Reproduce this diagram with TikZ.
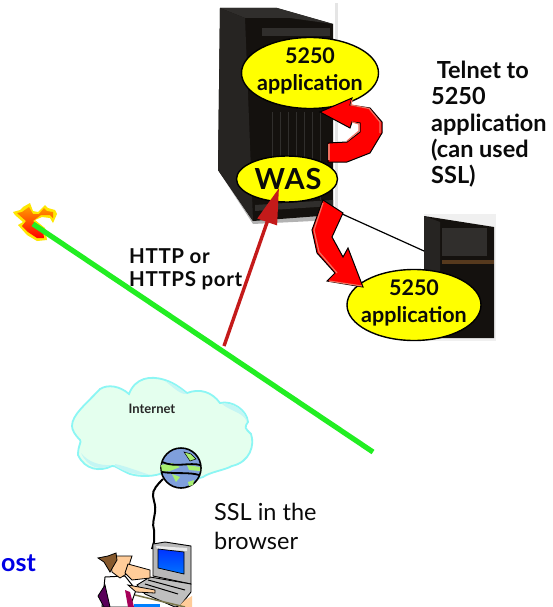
\documentclass[tikz,border=0pt]{standalone}
\usepackage{fontspec}
\setmainfont{Lato}
\usetikzlibrary{arrows.meta,shapes.geometric}
\newfontfamily\spaced[LetterSpace=3]{Lato}
\newfontfamily\portfont[LetterSpace=3]{Lato}
\definecolor{redarrow}{HTML}{C41A1A}
\definecolor{limeline}{HTML}{22EE22}
\definecolor{ellyellow}{HTML}{FFFF00}
\definecolor{cloudfill}{HTML}{E4FFEE}
\definecolor{cloudedge}{HTML}{8CF6F4}
\definecolor{cloudshade}{HTML}{C4F6F4}
\definecolor{globeblue}{HTML}{7F9FDC}
\definecolor{globegreen}{HTML}{A8F070}
\definecolor{srvdark}{HTML}{14110E}
\definecolor{srvmid}{HTML}{262422}
\definecolor{srvside}{HTML}{302E2C}
\definecolor{redrimc}{HTML}{F07060}
\definecolor{skin}{HTML}{FFCC99}
\definecolor{inktext}{HTML}{0A0A0A}
\tikzset{
  x=1pt,y=-1pt,
  appell/.style={ellipse,draw=black,line width=1.4pt,fill=ellyellow,inner sep=0pt,minimum width=#1},
  applabel/.style={font=\fontsize{21.5}{27}\selectfont\bfseries,align=center,text=inktext,inner sep=0pt},
  sidelabel/.style={font=\fontsize{23.5}{26.3}\selectfont\bfseries,align=left,anchor=north west,inner sep=0pt,text=inktext},
  portlabel/.style={font=\portfont\fontsize{20.5}{23}\selectfont\bfseries,align=left,anchor=north west,inner sep=0pt,text=inktext},
  redshape/.style={fill=red,draw=black,line width=1pt,line join=miter},
  redrim/.style={draw=redrimc,line width=1.2pt},
}
\begin{document}
\begin{tikzpicture}
\useasboundingbox (0,0) rectangle (552,607);
\fill[white] (0,0) rectangle (552,607);

% large server
\fill[black!10] (335,3) rectangle (338,222);
\fill[black!30] (218,170) -- (253,224) -- (333,220) -- (333,208) -- (253,214) -- cycle;
\fill[srvdark] (220,8) -- (277,8) -- (333,24) -- (333,215) -- (253,221) -- (218,170) -- cycle;
\fill[srvside] (220,8) -- (277,8) -- (333,24) -- (290,18) -- (245,18) -- cycle;
\fill[srvmid] (220,8) -- (245,18) -- (253,221) -- (218,170) -- cycle;
\fill[srvside] (262,28) rectangle (330,36);
\foreach \xx in {272,280,288,296,304,312,320}{\fill[srvside] (\xx,112) rectangle ++(1,88);}
\fill[srvside] (255,205) -- (333,200) -- (333,206) -- (255,211) -- cycle;

% small server
\fill[black!6] (424,214) rectangle (496,341);
\fill[srvdark] (424,216) -- (494,227) -- (494,338) -- (424,338) -- cycle;
\fill[srvmid] (424,216) -- (440,222) -- (440,338) -- (424,338) -- cycle;
\fill[srvside] (442,228) rectangle (487,256);
\fill[brown!45!black] (442,260) rectangle (494,264);

% network line
\coordinate (linkA) at (340,213);
\coordinate (linkB) at (424,251);
\draw[black,line width=1.2pt] (linkA) -- (linkB);

% flame
\fill[yellow!90!orange] (13,212) -- (20,210) -- (23,207) -- (30,203) -- (33,211) -- (38,212) -- (45,205) -- (48,208) -- (55,210) -- (57,214) -- (53,223) -- (50,218) -- (42,217) -- (35,220) -- (45,228) -- (47,240) -- (37,241) -- (27,235) -- (18,225) -- (23,222) -- (15,215) -- cycle;
\shade[top color=orange!80!yellow,bottom color=red] (17,213) -- (22,212) -- (29,207) -- (33,214) -- (39,214) -- (44,208) -- (47,211) -- (53,212) -- (53,218) -- (50,215) -- (41,215) -- (33,221) -- (43,230) -- (44,238) -- (37,238) -- (28,232) -- (22,226) -- (26,221) -- cycle;

% green line
\coordinate (gA) at (33,224);
\coordinate (gB) at (373,452);
\draw[limeline,line width=5.2pt] (gA) -- (gB);

% cloud
\path[fill=cloudfill,draw=cloudedge,line width=1.8pt]
  (72,426) .. controls (72,415) and (85,405) .. (100,389)
  .. controls (108,384) and (120,386) .. (129,394)
  .. controls (135,378) and (150,375) .. (165,380)
  .. controls (175,383) and (183,390) .. (187,393)
  .. controls (200,388) and (212,392) .. (220,403)
  .. controls (232,400) and (247,410) .. (248,422)
  .. controls (244,428) and (245,428) .. (251,434)
  .. controls (255,445) and (250,462) .. (232,466)
  .. controls (225,470) and (210,472) .. (203,477)
  .. controls (190,482) and (175,480) .. (165,472)
  .. controls (155,477) and (140,477) .. (130,474)
  .. controls (120,470) and (115,465) .. (112,466)
  .. controls (100,472) and (85,470) .. (78,455)
  .. controls (78,445) and (82,442) .. (80,440)
  .. controls (75,435) and (72,430) .. (72,426) -- cycle;
\fill[cloudshade] (165,381) .. controls (175,384) and (183,391) .. (187,394) .. controls (180,395) and (172,386) .. (165,381) -- cycle;
\fill[cloudshade] (222,404) .. controls (233,402) and (246,411) .. (247,422) .. controls (243,412) and (232,412) .. (222,404) -- cycle;
\fill[cloudshade] (81,453) .. controls (88,468) and (100,471) .. (112,465) .. controls (100,466) and (88,462) .. (81,453) -- cycle;
\fill[cloudshade] (115,466) .. controls (125,472) and (135,475) .. (150,475) .. controls (135,470) and (125,466) .. (115,464) -- cycle;
\node[font=\fontsize{13}{15}\selectfont\bfseries,text=black!85,inner sep=0pt] (internet) at (152,409) {Internet};

% globe
\node[circle,draw=black,line width=1.6pt,fill=globeblue,minimum size=40pt,inner sep=0pt] (globe) at (181,468) {};
\fill[globegreen,draw=black,line width=.5pt] (184,452) -- (191,454) -- (196,459) -- (190,461) -- cycle;
\fill[globegreen] (161,465) -- (172,463) -- (180,467) -- (170,471) -- (162,472) -- cycle;
\fill[globegreen] (187,465) -- (200,467) -- (200,471) -- (189,470) -- cycle;
\fill[globegreen] (172,474) -- (180,477) -- (176,482) -- cycle;
\fill[globegreen] (188,482) -- (194,480) -- (193,485) -- (189,486) -- cycle;
\draw[black,line width=1.8pt] (162,462) .. controls (175,468) and (190,462) .. (200,465);
\draw[black,line width=1.8pt] (162,472) .. controls (175,474) and (190,472) .. (199,475);

% cable
\coordinate (cableEnd) at (152,549);
\draw[black,line width=2pt] (163,479) .. controls (158,484) and (152,490) .. (153,496) .. controls (154,503) and (156,505) .. (155,512) .. controls (154,520) and (152,523) .. (154,530) -- (154,542) -- (cableEnd);

% computer
\fill[black!28,draw=black,line width=.9pt] (153,544) -- (165,542) -- (191,546) -- (191,584) -- (153,576) -- cycle;
\fill[black!8] (156,546) -- (187,548) -- (187,551) -- (157,549) -- cycle;
\shade[top color=blue!80!cyan,bottom color=cyan!45!blue,draw=black,line width=.7pt] (158,549) -- (184,552) -- (184,574) -- (158,568) -- cycle;
\fill[black!25,draw=black,line width=.9pt] (137,585) -- (150,577) -- (191,584) -- (191,592) -- (180,606) -- (175,607) -- (145,594) -- cycle;
\draw[black,line width=1pt] (148,580) -- (185,590);
\draw[black,line width=1pt] (145,584) -- (178,594);

% person
\fill[white,draw=black,line width=1pt] (105,577) -- (125,576) -- (136,590) -- (130,607) -- (102,607) -- cycle;
\fill[violet!70!black,draw=black,line width=.8pt] (105,585) -- (98,596) -- (104,607) -- (110,607) -- cycle;
\fill[violet!70!red] (125,590) -- (130,592) -- (134,607) -- (128,607) -- cycle;
\fill[skin,draw=black,line width=.8pt] (110,556) -- (132,556) -- (130,562) -- (128,573) -- (120,578) -- (112,572) -- cycle;
\fill[brown!70!black,draw=black,line width=.8pt] (98,558) -- (108,556) -- (116,553) -- (117,560) -- (110,572) -- (104,562) -- cycle;
\fill[skin,draw=black,line width=.8pt] (128,564) -- (150,570) -- (150,578) -- (132,580) -- (125,573) -- cycle;
\fill[skin,draw=black,line width=.8pt] (128,585) -- (155,590) -- (155,593) -- (136,592) -- cycle;
\fill[skin] (185,600) -- (192,596) -- (192,607) -- (178,607) -- cycle;
\draw[black!60!yellow,line width=1.5pt] (135,595) -- (185,607);
\fill[blue!50!cyan] (134,604) -- (160,604) -- (160,607) -- (134,607) -- cycle;

% ellipses
\node[appell=137pt,minimum height=71pt] (topapp) at (310,73) {};
\node[applabel] (toptext) at (310,71) {5250\\application};
\node[appell=101pt,minimum height=46pt] (was) at (287,179) {};
\node[font=\spaced\fontsize{29}{30}\selectfont\bfseries,text=inktext,inner sep=0pt] (waslabel) at (288,179) {WAS};
\node[appell=134pt,minimum height=71pt] (lowapp) at (414,305) {};
\node[applabel] (lowtext) at (414,303) {5250\\application};

% curved arrow
\path[redshape] (320,112) -- (352,98) -- (350,105) -- (370,108) -- (382,122) -- (382,133) -- (370,153) -- (347,162) -- (328,162) -- (328,143) -- (347,142) -- (360,132) -- (360,123) -- (352,122) -- (350,128) -- cycle;
\draw[redrim] (352,100) -- (351,105) -- (369,108.500) -- (380,122) -- (380,133);
\draw[redrim] (329,160) -- (329,144);
\draw[redrim] (347,141) -- (359,131) -- (359,124) -- (352,122);

% lower arrow
\path[redshape] (323,200) -- (343,213) -- (332,237) -- (343,257) -- (348,248) -- (363,287) -- (327,281) -- (335,273) -- (317,253) -- (312,230) -- cycle;
\draw[redrim] (323,203) -- (314,230) -- (319,252) -- (337,273);
\draw[redrim] (329,281) -- (362,286);

% red arrow
\coordinate (redStart) at (224,346);
\coordinate (redTip) at (279,188);
\draw[redarrow,line width=3.4pt,-{Triangle[length=36pt,width=20pt]}] (redStart) -- (redTip);

% labels
\node[portlabel] (httpl) at (129,248) {HTTP or\\HTTPS port};
\node[sidelabel] (telnetl) at (431,61) {\ Telnet to\\5250\\application\\(can used\\SSL)};
\node[font=\fontsize{23.5}{29}\selectfont,align=left,anchor=north west,inner sep=0pt,text=inktext] (ssll) at (214,503) {SSL in the\\browser};
\node[font=\fontsize{25}{28}\selectfont\bfseries,text=blue!90!black,anchor=base east,inner sep=0pt] (hostl) at (36,571) {ost};
\end{tikzpicture}
\end{document}
